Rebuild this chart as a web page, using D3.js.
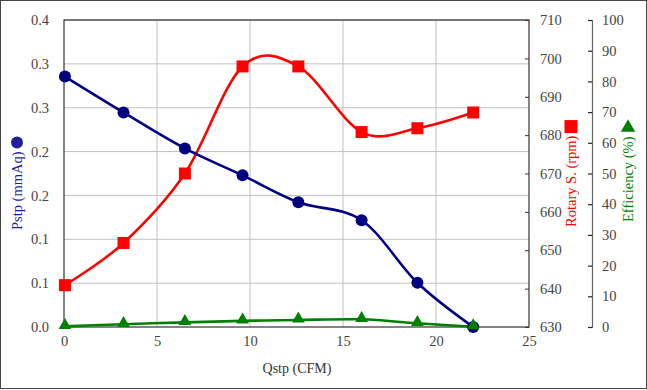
<!DOCTYPE html>
<html>
<head>
<meta charset="utf-8">
<script src="https://cdn.jsdelivr.net/npm/d3@7"></script>
<style>
  body { margin: 0; background: #fff; }
</style>
</head>
<body>
<div id="chart"></div>
<script>
let width = 647;
let height = 390;
const serif = "'Liberation Serif', 'Times New Roman', serif";

// data
var qstp = [0.05, 3.2, 6.5, 9.6, 12.6, 16.0, 19.0, 22.0];
var pstp = [0.2855, 0.2446, 0.2036, 0.1729, 0.1422, 0.1217, 0.0504, 0.0];
var rpm = [640.9, 651.9, 670.0, 697.9, 697.9, 680.8, 681.8, 685.9];
var eff = [0.2, 0.9, 1.5, 2.0, 2.3, 2.5, 1.2, 0.1];

var pTicks = [0, 0.05, 0.10, 0.15, 0.20, 0.25, 0.30, 0.35];
var pTickLabels = ["0.0", "0.1", "0.1", "0.2", "0.2", "0.3", "0.3", "0.4"];
var rTicks = [630, 640, 650, 660, 670, 680, 690, 700, 710];
var eTicks = [0, 10, 20, 30, 40, 50, 60, 70, 80, 90, 100];
var xTicks = [0, 5, 10, 15, 20, 25];

let plot = {left: 64, right: 529, top: 20, bottom: 327};

let x = d3.scaleLinear().domain([0, 25]).range([plot.left, plot.right]);
let yP = d3.scaleLinear().domain([0, 0.35]).range([plot.bottom, plot.top]);
let yR = d3.scaleLinear().domain([630, 710]).range([plot.bottom, plot.top]);
let yE = d3.scaleLinear().domain([0, 100]).range([plot.bottom, plot.top]);

let svg = d3.select("#chart")
    .append("svg")
    .attr("width", width)
    .attr("height", height)
    .style("display", "block");

// outer frame
svg.append("rect")
    .attr("x", 0.5).attr("y", 0.5)
    .attr("width", width - 1).attr("height", height - 2)
    .attr("fill", "white")
    .attr("stroke", "#444");

// gridlines
svg.append("g")
    .selectAll("line.h")
    .data(pTicks.slice(1))
    .join("line")
    .attr("x1", plot.left).attr("x2", plot.right)
    .attr("y1", d => yP(d)).attr("y2", d => yP(d))
    .attr("stroke", "#c0c0c0");

svg.append("g")
    .selectAll("line.v")
    .data(xTicks.slice(1, -1))
    .join("line")
    .attr("y1", plot.top).attr("y2", plot.bottom)
    .attr("x1", d => x(d)).attr("x2", d => x(d))
    .attr("stroke", "#c0c0c0");

// plot border
svg.append("rect")
    .attr("x", plot.left).attr("y", plot.top)
    .attr("width", plot.right - plot.left)
    .attr("height", plot.bottom - plot.top)
    .attr("fill", "none")
    .attr("stroke", "#333")
    .attr("stroke-width", 1.2);

const tickFont = 14.5;
const tickColor = "#444";

function styleTicks(g) {
    g.attr("font-family", serif).attr("font-size", tickFont);
    g.selectAll("text").attr("fill", tickColor);
}

// left axis
svg.append("g")
    .attr("transform", `translate(${plot.left},0)`)
    .call(d3.axisLeft(yP).tickValues(pTicks).tickSize(0).tickPadding(15)
        .tickFormat((d, i) => pTickLabels[i]))
    .call(g => g.select(".domain").remove())
    .call(styleTicks);

// bottom axis
svg.append("g")
    .attr("transform", `translate(0,${plot.bottom})`)
    .call(d3.axisBottom(x).tickValues(xTicks).tickSize(0).tickPadding(9))
    .call(g => g.select(".domain").remove())
    .call(styleTicks);

// rpm axis (ticks inside)
svg.append("g")
    .attr("transform", `translate(${plot.right},0)`)
    .call(d3.axisRight(yR).tickValues(rTicks).tickSizeInner(-4).tickSizeOuter(0).tickPadding(11))
    .call(g => g.select(".domain").remove())
    .call(g => g.selectAll("line").attr("stroke", "#333"))
    .call(styleTicks);

// efficiency axis
let effX = 592;
svg.append("g")
    .attr("transform", `translate(${effX},0)`)
    .call(d3.axisRight(yE).tickValues(eTicks).tickSizeInner(-4).tickSizeOuter(-4).tickPadding(10))
    .call(g => g.select(".domain").attr("stroke", "#666").attr("stroke-width", 1.2))
    .call(g => g.selectAll("line").attr("stroke", "#222").attr("stroke-width", 1.2))
    .call(styleTicks);

// lines
let curve = d3.curveCardinal.tension(0);

function drawSeries(vals, yScale, color) {
    let pts = qstp.map((q, i) => [x(q), yScale(vals[i])]);
    svg.append("path")
        .attr("d", d3.line().curve(curve)(pts))
        .attr("fill", "none")
        .attr("stroke", color)
        .attr("stroke-width", 2.6);
    return pts;
}

let ptsR = drawSeries(rpm, yR, "#ff0000");
let ptsP = drawSeries(pstp, yP, "#000080");
let ptsE = drawSeries(eff, yE, "#008000");

svg.append("g").selectAll("rect")
    .data(ptsR).join("rect")
    .attr("x", d => d[0] - 6).attr("y", d => d[1] - 6)
    .attr("width", 12).attr("height", 12)
    .attr("fill", "#ff0000");

svg.append("g").selectAll("circle")
    .data(ptsP).join("circle")
    .attr("cx", d => d[0]).attr("cy", d => d[1])
    .attr("r", 6)
    .attr("fill", "#000080");

let tri = d3.symbol().type(d3.symbolTriangle).size(70);
svg.append("g").selectAll("path")
    .data(ptsE).join("path")
    .attr("transform", d => `translate(${d[0]},${d[1] - 1})`)
    .attr("d", tri)
    .attr("fill", "#008000");

// axis titles
svg.append("text")
    .attr("x", 297).attr("y", 373)
    .attr("text-anchor", "middle")
    .attr("font-family", serif)
    .attr("font-size", 14)
    .attr("fill", "#333")
    .text("Qstp (CFM)");

function vTitle(cx, bottomY, label, color, marker) {
    let t = svg.append("text")
        .attr("transform", `translate(${cx + 5},${bottomY}) rotate(-90)`)
        .attr("text-anchor", "start")
        .attr("font-family", serif)
        .attr("font-size", 14.5)
        .attr("fill", color)
        .text(label);
    let len = t.node().getComputedTextLength();
    let my = bottomY - len - 9;
    if (marker === "circle") {
        svg.append("circle").attr("cx", cx).attr("cy", my).attr("r", 6).attr("fill", color);
    } else if (marker === "square") {
        svg.append("rect").attr("x", cx - 6.5).attr("y", my - 6.5)
            .attr("width", 13).attr("height", 13).attr("fill", color);
    } else {
        svg.append("path").attr("transform", `translate(${cx},${my})`)
            .attr("d", d3.symbol().type(d3.symbolTriangle).size(90)).attr("fill", color);
    }
}

vTitle(17, 230, "Pstp (mmAq)", "#1f1f99", "circle");
vTitle(571, 227, "Rotary S. (rpm)", "#ff0000", "square");
vTitle(628, 222, "Efficiency (%)", "#008000", "triangle");
</script>
</body>
</html>
